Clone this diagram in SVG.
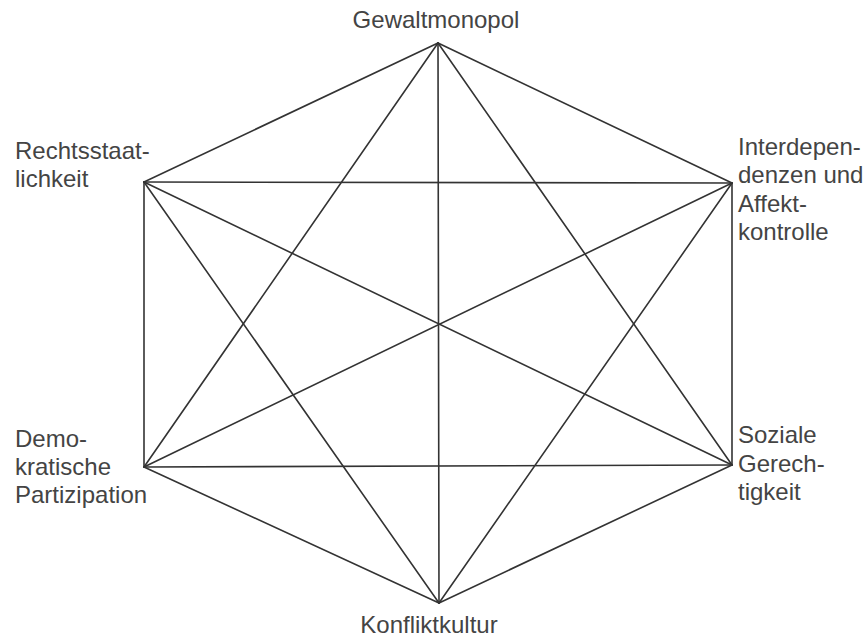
<svg xmlns="http://www.w3.org/2000/svg" width="868" height="639" viewBox="0 0 868 639">
<style>
.e{stroke:#333;stroke-width:1.6;fill:none;stroke-linecap:round}
text{font-family:"Liberation Sans",Arial,sans-serif;font-size:24px;fill:#444}
</style>
<rect width="868" height="639" fill="#fff"/>
<g id="connectors">
<line class="e" x1="438" y1="43" x2="732" y2="183"/>
<line class="e" x1="438" y1="43" x2="732" y2="465"/>
<line class="e" x1="438" y1="43" x2="439" y2="603"/>
<line class="e" x1="438" y1="43" x2="144" y2="467"/>
<line class="e" x1="438" y1="43" x2="144" y2="182"/>
<line class="e" x1="732" y1="183" x2="732" y2="465"/>
<line class="e" x1="732" y1="183" x2="439" y2="603"/>
<line class="e" x1="732" y1="183" x2="144" y2="467"/>
<line class="e" x1="732" y1="183" x2="144" y2="182"/>
<line class="e" x1="732" y1="465" x2="439" y2="603"/>
<line class="e" x1="732" y1="465" x2="144" y2="467"/>
<line class="e" x1="732" y1="465" x2="144" y2="182"/>
<line class="e" x1="439" y1="603" x2="144" y2="467"/>
<line class="e" x1="439" y1="603" x2="144" y2="182"/>
<line class="e" x1="144" y1="467" x2="144" y2="182"/>
</g>
<g id="gewaltmonopol"><text x="436" y="28" text-anchor="middle">Gewaltmonopol</text></g>
<g id="rechtsstaatlichkeit"><text x="15" y="159">Rechtsstaat-</text><text x="15" y="187">lichkeit</text></g>
<g id="interdependenzen"><text x="738" y="155">Interdepen-</text><text x="738" y="183">denzen und</text><text x="738" y="212">Affekt-</text><text x="738" y="240">kontrolle</text></g>
<g id="demokratische"><text x="15" y="447">Demo-</text><text x="15" y="475">kratische</text><text x="15" y="503">Partizipation</text></g>
<g id="soziale"><text x="738" y="443">Soziale</text><text x="738" y="472">Gerech-</text><text x="738" y="500">tigkeit</text></g>
<g id="konfliktkultur"><text x="429" y="633" text-anchor="middle">Konfliktkultur</text></g>
</svg>
